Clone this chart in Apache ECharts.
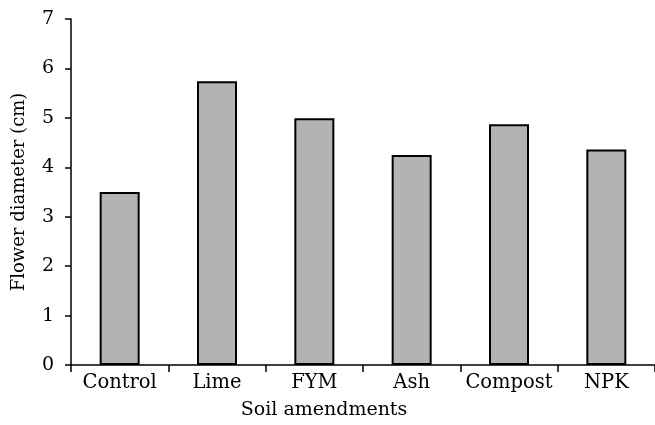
<!DOCTYPE html>
<html>
<head>
<meta charset="utf-8">
<script src="https://cdn.jsdelivr.net/npm/echarts@6/dist/echarts.min.js"></script>
<style>html,body{margin:0;padding:0;background:#fff;}#c{width:655px;height:425px;}</style>
</head>
<body>
<div id="c"></div>
<script>
const categories = ['Control', 'Lime', 'FYM', 'Ash', 'Compost', 'NPK'];
const values = [3.5, 5.74, 4.99, 4.25, 4.87, 4.36];
const yTicks = [0, 1, 2, 3, 4, 5, 6, 7];
const xTitle = 'Soil amendments';
const yTitle = 'Flower diameter (cm)';

const FONT = 'DejaVu Serif';
const chart = echarts.init(document.getElementById('c'), null, {renderer: 'canvas'});
chart.setOption({
  animation: false,
  backgroundColor: '#fff',
  grid: {left: 71, top: 19, bottom: 60, width: 590, containLabel: false},
  xAxis: {
    type: 'category',
    data: categories,
    axisLine: {lineStyle: {color: '#000', width: 1.5}},
    axisTick: {show: true, length: 7, inside: false, interval: 0, lineStyle: {color: '#000', width: 1.5}},
    axisLabel: {color: '#000', fontFamily: FONT, fontSize: 19.5, margin: 8, interval: 0}
  },
  yAxis: {
    type: 'value',
    min: yTicks[0], max: yTicks[yTicks.length - 1], interval: 1,
    name: yTitle, nameLocation: 'middle', nameGap: 43,
    nameTextStyle: {color: '#000', fontFamily: FONT, fontSize: 18},
    axisLine: {show: true, lineStyle: {color: '#000', width: 1.5}},
    axisTick: {show: true, length: 6, inside: false, lineStyle: {color: '#000', width: 1.5}},
    axisLabel: {color: '#000', fontFamily: FONT, fontSize: 19, margin: 17},
    splitLine: {show: false}
  },
  graphic: [{
    type: 'text', x: 324, y: 410,
    style: {text: xTitle, fill: '#000', font: '19px "DejaVu Serif"', align: 'center', verticalAlign: 'middle'}
  }],
  series: [{
    type: 'bar',
    data: values,
    barWidth: 40,
    itemStyle: {color: '#b3b3b3', borderColor: '#000', borderWidth: 2}
  }]
});
</script>
</body>
</html>
